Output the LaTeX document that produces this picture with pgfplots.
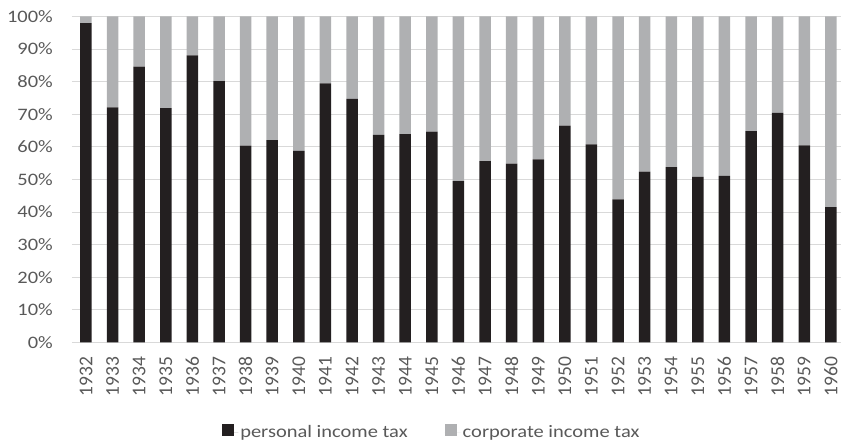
\documentclass[border=0pt]{standalone}
\usepackage{pgfplots}
\pgfplotsset{compat=1.18}
\usetikzlibrary{calc}
\usepackage{fontspec}
\setmainfont{Carlito}
\newfontfamily\widefont[FakeStretch=1.17]{Carlito}

\definecolor{darkbar}{HTML}{231F20}
\definecolor{graybar}{HTML}{AFB0B2}
\definecolor{gridc}{HTML}{D9D9D9}
\definecolor{labc}{HTML}{595959}

\pgfplotsset{
  sqlegend/.style={legend image code/.code={%
    \fill[##1] (0pt,-4pt) rectangle (12pt,8pt);
    \path (0pt,0pt) -- (16pt,0pt);}},
}

\begin{document}
\begin{tikzpicture}
\begin{axis}[
    name=ax,
    scale only axis,
    width=769pt, height=326pt,
    ybar stacked,
    bar width=11.5pt,
    xmin=1931.474, xmax=1960.38,
    ymin=0, ymax=100,
    xtick={1932,...,1960},
    ytick={0,10,...,100},
    yticklabels={0\%,10\%,20\%,30\%,40\%,50\%,60\%,70\%,80\%,90\%,100\%},
    /pgf/number format/1000 sep={},
    /pgf/number format/assume math mode=true,
    ymajorgrids,
    grid style={color=gridc, line width=1.1pt},
    axis line style={draw=none},
    major tick length=0pt,
    tick label style={text=labc, inner sep=0pt},
    yticklabel style={font=\widefont\fontsize{17.5pt}{21pt}\selectfont},
    xticklabel style={rotate=90, anchor=east, font=\fontsize{19.5pt}{23pt}\selectfont},
    xticklabel shift=14pt,
    yticklabel shift=19pt,
    legend columns=2,
    legend style={at={(0.468,-0.275)}, anchor=center, draw=none, fill=none,
      font=\widefont\fontsize{17.5pt}{21pt}\selectfont, text=labc, inner sep=0pt,
      /tikz/every even column/.append style={column sep=35pt}},
    legend cell align=left,
]

% personal income tax (share, %)
\addplot[fill=darkbar, draw=none, sqlegend] coordinates {
  (1932,98.0) (1933,72.1) (1934,84.6) (1935,71.9) (1936,88.1)
  (1937,80.2) (1938,60.4) (1939,62.1) (1940,58.8) (1941,79.5)
  (1942,74.7) (1943,63.7) (1944,63.9) (1945,64.7) (1946,49.5)
  (1947,55.6) (1948,54.9) (1949,56.2) (1950,66.5) (1951,60.8)
  (1952,43.9) (1953,52.4) (1954,53.8) (1955,50.8) (1956,51.1)
  (1957,64.8) (1958,70.4) (1959,60.5) (1960,41.5)
};

% corporate income tax (share, %)
\addplot[fill=graybar, draw=none, sqlegend] coordinates {
  (1932,2.0) (1933,27.9) (1934,15.4) (1935,28.1) (1936,11.9)
  (1937,19.8) (1938,39.6) (1939,37.9) (1940,41.2) (1941,20.5)
  (1942,25.3) (1943,36.3) (1944,36.1) (1945,35.3) (1946,50.5)
  (1947,44.4) (1948,45.1) (1949,43.8) (1950,33.5) (1951,39.2)
  (1952,56.1) (1953,47.6) (1954,46.2) (1955,49.2) (1956,48.9)
  (1957,35.2) (1958,29.6) (1959,39.5) (1960,58.5)
};

\legend{personal income tax, corporate income tax}
\end{axis}
\pgfresetboundingbox
\path[use as bounding box] ($(ax.south west)+(-72pt,-101pt)$) rectangle ($(ax.north east)+(0pt,16.5pt)$);
\end{tikzpicture}
\end{document}
